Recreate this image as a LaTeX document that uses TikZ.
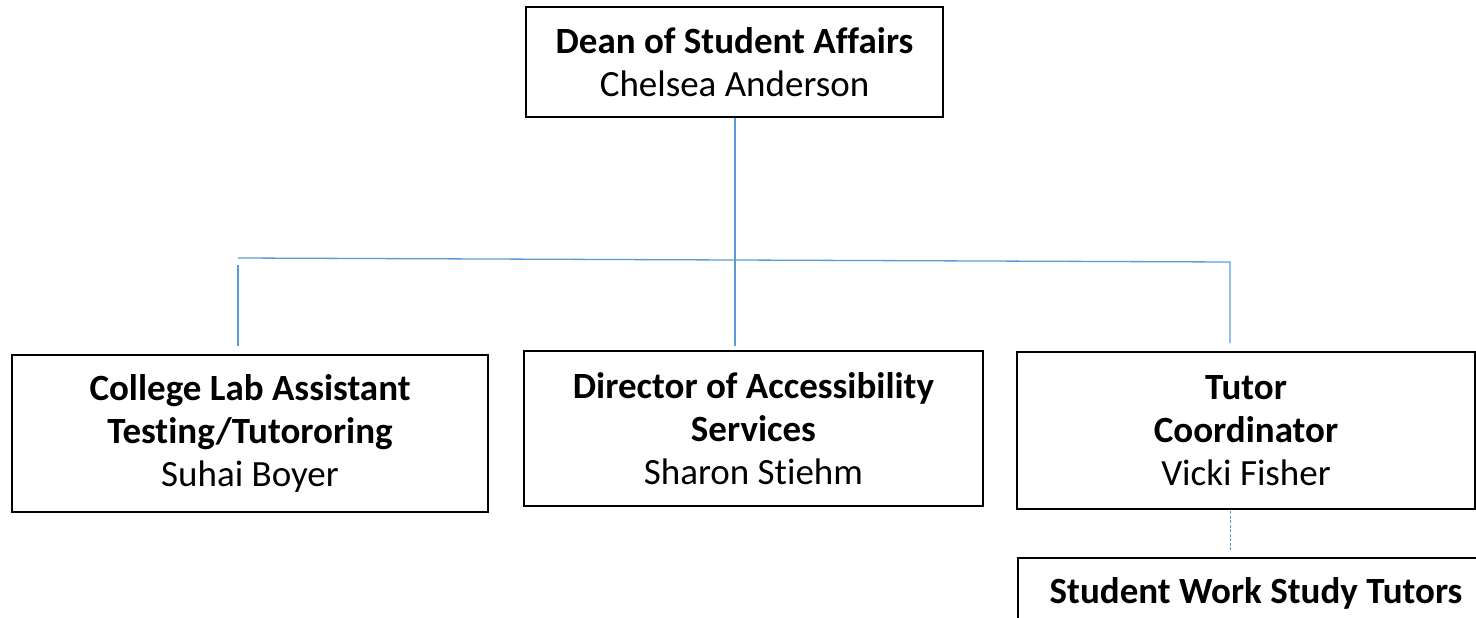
\documentclass[tikz,border=0pt]{standalone}
\usepackage{fontspec}
\setmainfont[Ligatures=NoCommon]{Carlito}
\begin{document}
\begin{tikzpicture}[x=1pt,y=-1pt,
  box/.style={draw=black,line width=1.6pt,align=center,inner sep=0pt,font=\fontsize{37}{43}\selectfont},
  conn/.style={draw={rgb,255:red,91;green,155;blue,213},line width=1.3pt},
  dconn/.style={conn,dashed,dash pattern=on 3pt off 1.5pt,line width=1pt}]
\useasboundingbox (0,0) rectangle (1476,618);
\clip (0,0) rectangle (1476,618);
\node[box,minimum width=417pt,minimum height=110pt] (dean) at (734.5,62) {\textbf{Dean of Student Affairs}\\Chelsea Anderson};
\node[box,minimum width=476pt,minimum height=157pt] (lab) at (250,433.5) {\textbf{College Lab Assistant}\\\textbf{Testing/Tutororing}\\Suhai Boyer};
\node[box,minimum width=459pt,minimum height=155pt] (dir) at (753.5,428.5) {\textbf{Director of Accessibility}\\\textbf{Services}\\Sharon Stiehm};
\node[box,minimum width=458pt,minimum height=157pt] (tut) at (1246,430.5) {\textbf{Tutor}\\\textbf{Coordinator}\\Vicki Fisher};
\node[box,minimum width=476pt,minimum height=90pt] (sws) at (1256,603) {};
\node[font=\fontsize{37}{43}\selectfont\bfseries,anchor=base] (swst) at (1256,603) {Student Work Study Tutors};
\coordinate (hl) at (238,258);
\coordinate (hr) at (1230,262);
\coordinate (lt) at (238,265);
\coordinate (lb) at (238,346);
\coordinate (db) at (735,346);
\coordinate (rb) at (1230,343);
\coordinate (tb) at (1230,511);
\coordinate (st) at (1230,550);
\path[conn] (dean.south -| db) -- (db);
\path[conn] (hl) -- (hr) -- (rb);
\path[conn] (lt) -- (lb);
\path[dconn] (tb) -- (st);
\end{tikzpicture}
\end{document}
